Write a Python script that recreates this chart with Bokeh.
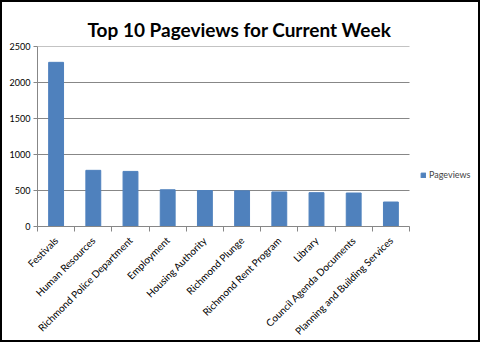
import math
from bokeh.plotting import figure
from bokeh.models import FixedTicker, Legend, LegendItem, ColumnDataSource, Range1d
from bokeh.embed import file_html
from bokeh.resources import INLINE

categories = ["Festivals", "Human Resources", "Richmond Police Department", "Employment",
              "Housing Authority", "Richmond Plunge", "Richmond Rent Program", "Library",
              "Council Agenda Documents", "Planning and Building Services"]
pageviews = [2280, 780, 765, 510, 500, 495, 480, 470, 465, 340]
y_ticks = [0, 500, 1000, 1500, 2000, 2500]

n = len(categories)
centers = [i + 0.5 for i in range(n)]
src = ColumnDataSource(dict(x=centers, top=pageviews))

FONT = "Lato"
GRID = "#878787"

W, H = 480, 342
LEFT, RIGHT_PLOT, RIGHT_FRAME, TOP, BOTTOM = 35, 407, 470, 44, 236
x_end = n * (RIGHT_FRAME - LEFT) / (RIGHT_PLOT - LEFT)

p = figure(width=W, height=H, output_backend="svg", toolbar_location=None,
           x_range=Range1d(0, x_end), y_range=Range1d(0, y_ticks[-1]),
           min_border_left=LEFT, min_border_right=W - RIGHT_FRAME,
           min_border_top=TOP, min_border_bottom=H - BOTTOM,
           styles={"border": "2px solid black", "box-sizing": "border-box"})
p.outline_line_color = None
p.background_fill_color = "white"
p.border_fill_color = "white"

# horizontal gridlines limited to the category span
p.segment(x0=[0] * len(y_ticks), x1=[n] * len(y_ticks), y0=y_ticks, y1=y_ticks,
          line_color=GRID, line_width=1)

r = p.vbar(x="x", top="top", width=0.4, source=src, fill_color="#4F81BD", line_color="#4F81BD")

p.title.text = "Top 10 Pageviews for Current Week"
p.title.align = "left"
p.title.offset = 50
p.title.standoff = 12
p.title.text_font = FONT
p.title.text_font_style = "bold"
p.title.text_font_size = "19px"
p.title.text_color = "black"

p.xgrid.visible = False
p.ygrid.visible = False

p.yaxis.ticker = FixedTicker(ticks=y_ticks)
p.yaxis.axis_line_color = GRID
p.yaxis.major_tick_line_color = GRID
p.yaxis.major_tick_out = 4
p.yaxis.major_tick_in = 0
p.yaxis.minor_tick_line_color = None
p.yaxis.major_label_text_font = FONT
p.yaxis.major_label_text_font_size = "9px"
p.yaxis.major_label_standoff = 3
p.yaxis.major_label_text_color = "black"

p.xaxis.bounds = (0, n)
p.xaxis.ticker = FixedTicker(ticks=centers, minor_ticks=list(range(n + 1)))
p.xaxis.major_label_overrides = {c: name for c, name in zip(centers, categories)}
p.xaxis.major_label_orientation = math.pi / 4
p.xaxis.axis_line_color = GRID
p.xaxis.major_tick_line_color = None
p.xaxis.minor_tick_line_color = GRID
p.xaxis.minor_tick_out = 5
p.xaxis.minor_tick_in = 0
p.xaxis.major_label_text_font = FONT
p.xaxis.major_label_text_font_size = "10px"
p.xaxis.major_label_standoff = 6
p.xaxis.major_label_text_color = "black"

legend = Legend(items=[LegendItem(label="Pageviews", renderers=[r])], location=(383, 46),
                border_line_color=None, background_fill_alpha=0, padding=0, margin=0,
                glyph_width=6, glyph_height=6, label_standoff=3,
                label_text_font=FONT, label_text_font_size="9px", label_height=10)
p.add_layout(legend, "center")

open("out.html", "w").write(file_html(p, INLINE))
